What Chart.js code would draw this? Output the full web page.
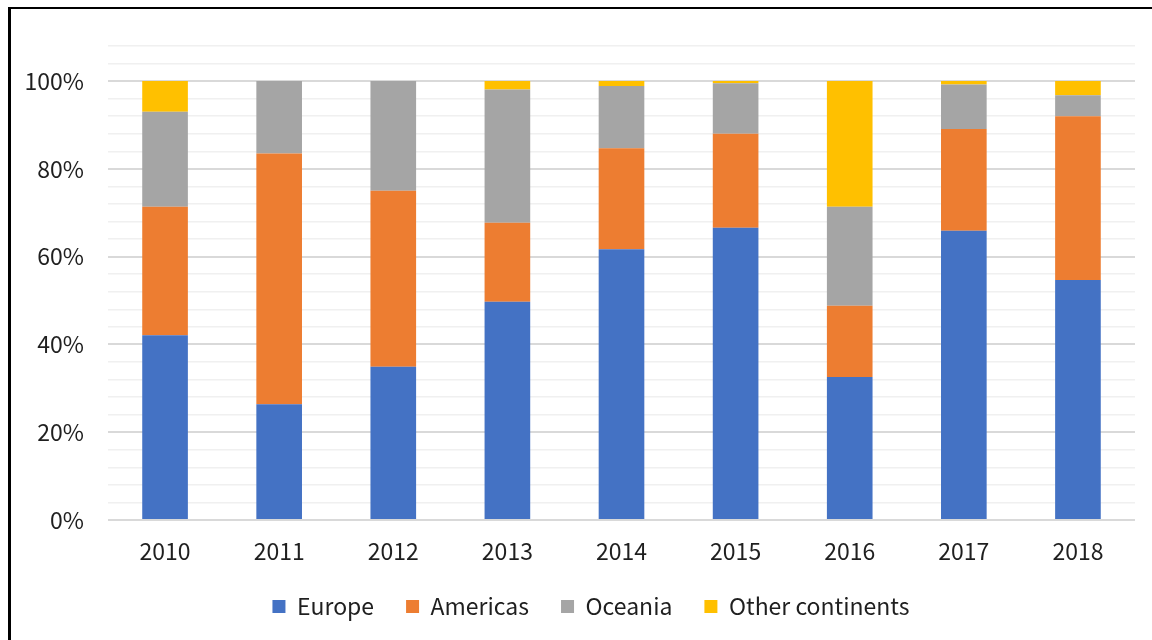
<!DOCTYPE html>
<html>
<head>
<meta charset="utf-8">
<script src="https://cdn.jsdelivr.net/npm/chart.js@4.4.1/dist/chart.umd.min.js"></script>
<style>
  html, body { margin: 0; padding: 0; background: #fff; overflow: hidden; }
  #wrap { position: absolute; left: 0; top: 0; width: 1152px; height: 640px; }
  #frame { position: absolute; left: 8px; top: 7px; width: 1200px; height: 700px;
           border-top: 2px solid #000; border-left: 3px solid #000; box-sizing: border-box; }
  canvas { position: absolute; left: 0; top: 0; }
</style>
</head>
<body>
<div id="wrap">
  <div id="frame"></div>
  <canvas id="c" width="1152" height="640"></canvas>
</div>
<script>
const years = ['2010', '2011', '2012', '2013', '2014', '2015', '2016', '2017', '2018'];
const europe   = [42.1, 26.4, 34.9, 49.7, 61.7, 66.6, 32.6, 65.9, 54.7];
const americas = [29.3, 57.1, 40.1, 18.0, 23.0, 21.4, 16.2, 23.2, 37.3];
const oceania  = [21.6, 16.5, 25.0, 30.4, 14.2, 11.5, 22.6, 10.1, 4.8];
const other    = [7.0, 0, 0, 1.9, 1.1, 0.5, 28.6, 0.8, 3.2];
const seriesNames = ['Europe', 'Americas', 'Oceania', 'Other continents'];
const seriesColors = ['#4472C4', '#ED7D31', '#A5A5A5', '#FFC000'];

const FONT = "'Noto Sans CJK JP', 'Noto Sans', sans-serif";
const TXT = '#1f1f1f';
const FS = 23;
const LEGEND_PAD = 32;

// centre the legend row on the same horizontal position as the reference
const legendShift = {
  id: 'legendShift',
  afterLayout(chart) {
    const lg = chart.legend;
    if (!lg || !lg.lineWidths) return;
    const lw = lg.lineWidths[0];
    const actualStart = (lg.left + LEGEND_PAD + lg.right - lw) / 2;
    const wantedStart = 591 - (lw - LEGEND_PAD) / 2;
    const s = wantedStart - actualStart;
    lg.left += s; lg.right += s;
  }
};

new Chart(document.getElementById('c'), {
  type: 'bar',
  data: {
    labels: years,
    datasets: [europe, americas, oceania, other].map((d, i) => ({
      label: seriesNames[i],
      data: d,
      backgroundColor: seriesColors[i],
      borderWidth: 0,
      barPercentage: 0.4,
      categoryPercentage: 1.0
    }))
  },
  options: {
    responsive: false,
    animation: false,
    layout: { padding: { top: 46, left: 0, right: 17, bottom: 12 } },
    plugins: {
      tooltip: { enabled: false },
      legend: {
        position: 'bottom',
        labels: {
          font: { family: FONT, size: FS },
          color: TXT,
          boxWidth: 13,
          boxHeight: 13,
          padding: LEGEND_PAD
        }
      }
    },
    scales: {
      x: {
        stacked: true,
        grid: { display: false },
        border: { display: false },
        ticks: { font: { family: FONT, size: FS }, color: TXT, padding: 9 },
        afterFit(scale) { scale.height = 43; }
      },
      y: {
        stacked: true,
        min: 0,
        max: 108,
        border: { display: false },
        grid: {
          drawTicks: false,
          color: ctx => (ctx.tick && ctx.tick.value % 20 === 0 && ctx.tick.value <= 100) ? '#d9d9d9' : '#f0f0f0',
          lineWidth: ctx => (ctx.tick && ctx.tick.value % 20 === 0 && ctx.tick.value <= 100) ? 2 : 1.5
        },
        ticks: {
          stepSize: 4,
          autoSkip: false,
          padding: 24,
          font: { family: FONT, size: FS },
          color: TXT,
          callback: v => (v % 20 === 0 && v <= 100) ? v + '%' : ''
        },
        afterFit(scale) { scale.width = 108; }
      }
    }
  },
  plugins: [legendShift]
});
</script>
</body>
</html>
